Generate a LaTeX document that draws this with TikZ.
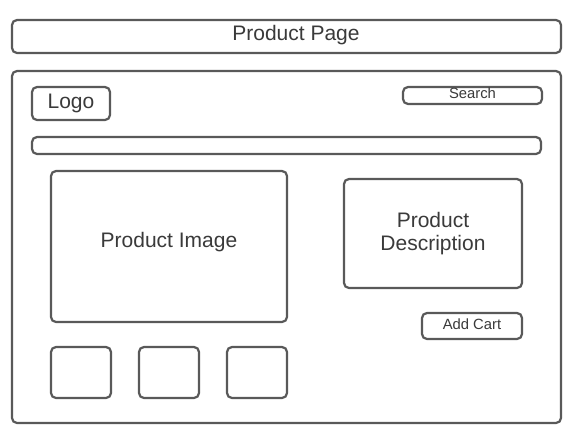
\documentclass[tikz,border=0pt]{standalone}
\usepackage{fontspec}
\setmainfont{Liberation Sans}
\begin{document}
\begin{tikzpicture}[x=1pt,y=-1pt,
  frame/.style={draw=linegray, line width=2.2pt, rounded corners=5pt,
    inner sep=0pt, outer sep=0pt, text=textgray, font=\fontsize{21}{23}\selectfont},
  small/.style={font=\fontsize{14.8}{17}\selectfont}]
  \definecolor{linegray}{HTML}{595959}
  \definecolor{textgray}{HTML}{3A3A3A}
  \useasboundingbox (0,0) rectangle (578,442);
  \fill[white] (0,0) rectangle (578,442);

  % page title bar
  \node[frame, minimum width=549pt, minimum height=33pt] (title) at (286.5,36.5) {};
  \node[text=textgray, font=\fontsize{21}{23}\selectfont] (titletext) at (296,35.5) {Product Page};

  % page body
  \node[frame, minimum width=549pt, minimum height=352pt] (page) at (286.5,247) {};

  % header: logo and search field
  \node[frame, minimum width=78pt, minimum height=33pt] (logo) at (71,103.5) {Logo};
  \node[frame, minimum width=139pt, minimum height=17pt] (search) at (472.5,95.5) {};
  \node[text=textgray, small] (searchtext) at (472.5,93.5) {Search};

  % navigation bar
  \node[frame, minimum width=509pt, minimum height=17pt] (nav) at (286.5,145.5) {};

  % main product image
  \node[frame, minimum width=236pt, minimum height=151pt] (image) at (169,246.5) {};
  \node[text=textgray, font=\fontsize{21}{23}\selectfont] (imagetext) at (169,242) {Product Image};

  % description and add-to-cart button
  \node[frame, minimum width=178pt, minimum height=109pt, align=center] (desc) at (433,233.5) {Product\\Description};
  \node[frame, minimum width=100pt, minimum height=26pt] (cart) at (472,326) {};
  \node[text=textgray, small] (carttext) at (472,324) {Add Cart};

  % thumbnails
  \node[frame, minimum width=60pt, minimum height=51pt] (thumb1) at (81,372.5) {};
  \node[frame, minimum width=60pt, minimum height=51pt] (thumb2) at (169,372.5) {};
  \node[frame, minimum width=60pt, minimum height=51pt] (thumb3) at (257,372.5) {};
\end{tikzpicture}
\end{document}
